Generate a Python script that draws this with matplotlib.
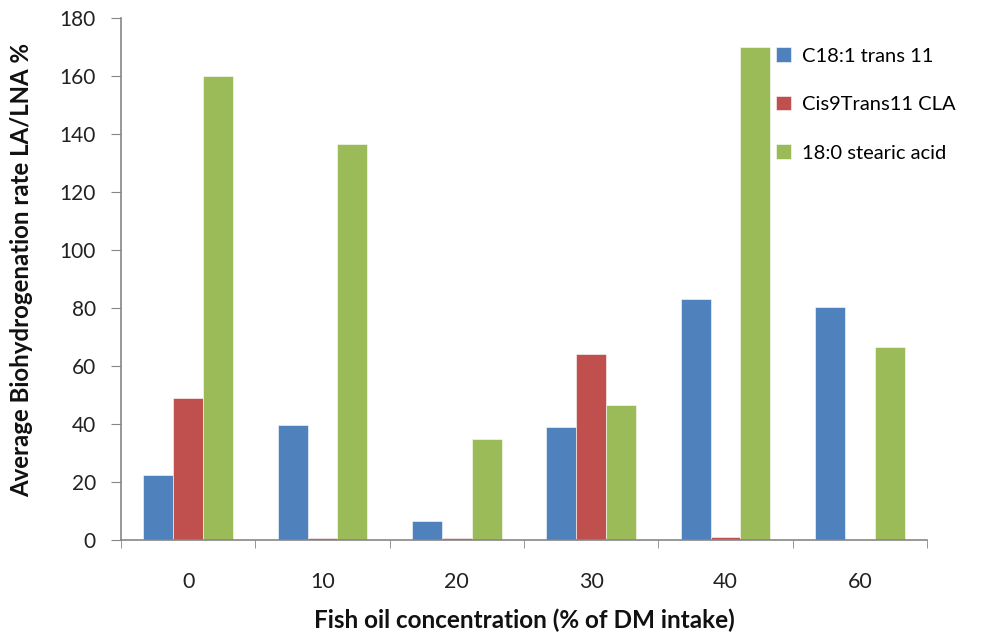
import matplotlib.pyplot as plt
import numpy as np

# data
categories = ["0", "10", "20", "30", "40", "60"]
series_names = ["C18:1 trans 11", "Cis9Trans11 CLA", "18:0 stearic acid"]
c18_trans11 = [22.3, 39.6, 6.4, 38.8, 83.0, 80.3]
cis9trans11_cla = [48.8, 0.6, 0.6, 64.0, 1.2, 0.0]
stearic_acid = [160.0, 136.6, 34.8, 46.7, 169.9, 66.7]
colors = ["#4F81BD", "#C0504D", "#9BBB59"]

plt.rcParams["font.family"] = ["Lato", "DejaVu Sans"]

fig = plt.figure(figsize=(9.84, 6.4), dpi=100)
ax = fig.add_axes([121 / 984, 1 - 540 / 640, (927 - 121) / 984, (540 - 18) / 640])

x = np.arange(len(categories))
width = 1 / 4.5
for i, (vals, name) in enumerate(zip([c18_trans11, cis9trans11_cla, stearic_acid], series_names)):
    ax.bar(x + (i - 1) * width, vals, width, color=colors[i], label=name,
           edgecolor="white", linewidth=0.4)

axis_col = "#868686"
ax.set_xlim(-0.5, len(categories) - 0.5)
ax.set_ylim(0, 180)
ax.set_yticks(np.arange(0, 181, 20))
ax.tick_params(axis="y", direction="out", length=7, color=axis_col, pad=11,
               labelsize=15, labelcolor="#222222")

ax.set_xticks(x)
ax.set_xticklabels(categories)
ax.set_xticks(np.arange(-0.5, len(categories), 1), minor=True)
ax.tick_params(axis="x", which="major", length=0, pad=23, labelsize=15.5, labelcolor="#222222")
ax.tick_params(axis="x", which="minor", direction="out", length=6, color=axis_col)

for s in ["top", "right"]:
    ax.spines[s].set_visible(False)
for s in ["left", "bottom"]:
    ax.spines[s].set_color(axis_col)
    ax.spines[s].set_linewidth(1.2)

ax.set_xlabel("Fish oil concentration (% of DM intake)", fontsize=17.5, fontweight="bold",
              labelpad=12, color="#111111")
ax.set_ylabel("Average Biohydrogenation rate LA/LNA %", fontsize=17.3, fontweight="bold",
              color="#111111", va="center")
ax.yaxis.set_label_coords(22 / 984, 1 - 270 / 640, transform=fig.transFigure)

ax.legend(loc="upper left", bbox_to_anchor=(758 / 984, 1 - 29 / 640),
          bbox_transform=fig.transFigure, frameon=False, fontsize=14.5,
          handlelength=0.75, handleheight=0.75, handletextpad=0.55, labelspacing=1.55)

plt.savefig("out.png", dpi=100)
